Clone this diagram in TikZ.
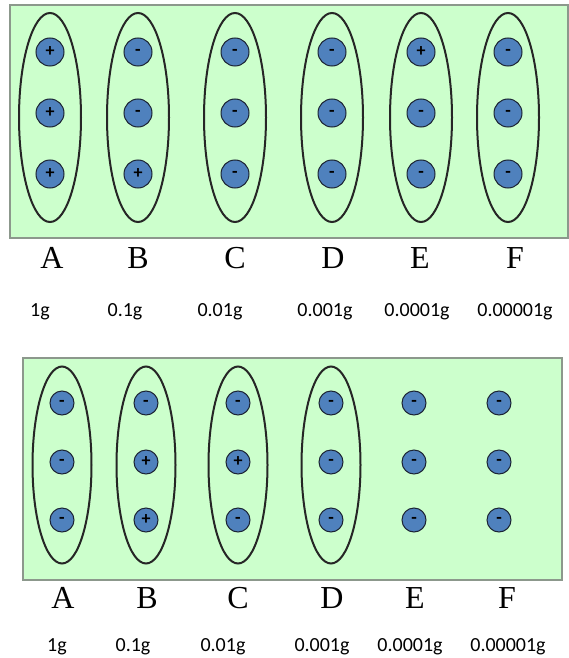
\documentclass[tikz,border=0pt]{standalone}
\usepackage{fontspec}
\setmainfont{Liberation Serif}
\newfontfamily\gramfont{Carlito}
\usetikzlibrary{shapes.geometric}
\definecolor{panelgreen}{RGB}{204,255,204}
\definecolor{panelgray}{RGB}{140,152,140}
\definecolor{chargeblue}{RGB}{79,129,189}
\definecolor{chargeedge}{RGB}{28,36,52}

\begin{document}
\begin{tikzpicture}[x=1pt,y=-1pt,
 panel/.style={draw=panelgray,fill=panelgreen,line width=1.2pt,inner sep=0pt},
 group/.style={ellipse,draw=black!85,line width=2pt,inner sep=0pt},
 charge/.style={circle,draw=chargeedge,fill=chargeblue,line width=1pt,inner sep=0pt,font=\gramfont\bfseries\fontsize{18}{18}\selectfont},
 letter/.style={anchor=base,font=\fontsize{32}{32}\selectfont},
 mass/.style={anchor=base,font=\gramfont\fontsize{20}{20}\selectfont}]
\useasboundingbox (0,0) rectangle (569,658);
\node[panel,minimum width=558,minimum height=233] (toppanel) at (289,121.5) {};
\node[panel,minimum width=539,minimum height=222] (botpanel) at (292.5,469) {};
\foreach \col/\x/\lx/\gx/\m/\sa/\sb/\sc in {A/50/52/40/1g/+/+/+,B/138/138/125/0.1g/-/-/+,C/235/235/220/0.01g/-/-/-,D/332/333/325/0.001g/-/-/-,E/421/420/417/0.0001g/+/-/-,F/508/515/515/0.00001g/-/-/-}{
 \node[group,minimum width=62,minimum height=209] (top\col) at (\x,117.5) {};
 \node[charge,minimum size=28] (top\col1) at (\x,52) {\sa};
 \node[charge,minimum size=28] (top\col2) at (\x,113) {\sb};
 \node[charge,minimum size=28] (top\col3) at (\x,174) {\sc};
 \node[letter] (toplabel\col) at (\lx,268) {\col};
 \node[mass] (topmass\col) at (\gx,316) {\m};
}
\foreach \col/\x/\lx/\gx/\m/\sa/\sb/\sc in {A/62/63/57/1g/-/-/-,B/146/147/133/0.1g/-/+/+,C/238/238/223/0.01g/-/+/-,D/331/332/322/0.001g/-/-/-,E/414/415/410/0.0001g/-/-/-,F/499/507/508/0.00001g/-/-/-}{
 \node[charge,minimum size=24] (bot\col1) at (\x,403) {\sa};
 \node[charge,minimum size=24] (bot\col2) at (\x,462) {\sb};
 \node[charge,minimum size=24] (bot\col3) at (\x,520) {\sc};
 \node[letter] (botlabel\col) at (\lx,608) {\col};
 \node[mass] (botmass\col) at (\gx,651) {\m};
}
\foreach \col/\x in {A/62,B/146,C/238,D/331}
 \node[group,minimum width=59,minimum height=197] (bot\col) at (\x,465) {};
\end{tikzpicture}
\end{document}
